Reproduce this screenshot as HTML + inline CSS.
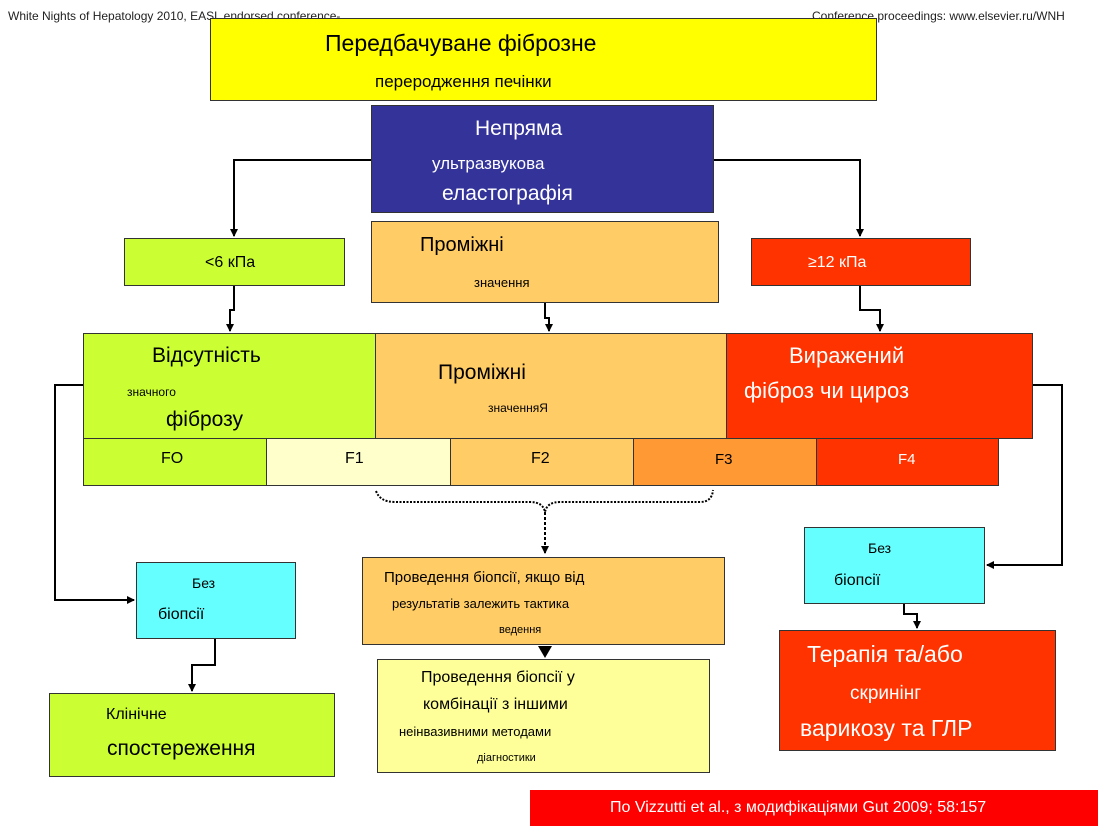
<!DOCTYPE html>
<html><head><meta charset="utf-8"><style>
body{margin:0;width:1098px;height:829px;background:#fff;position:relative;overflow:hidden;font-family:"Liberation Sans",sans-serif;}
.b{position:absolute;box-sizing:border-box;border:1.5px solid #333;}
.t{position:absolute;white-space:nowrap;}
</style></head><body>
<div class="t" style="left:8px;top:9px;font-size:12px;color:#222">White Nights of Hepatology 2010, EASL endorsed conference-</div>
<div class="t" style="left:812px;top:9px;font-size:12px;color:#222">Conference proceedings: www.elsevier.ru/WNH</div>

<div class="b" style="left:210px;top:18px;width:667px;height:83px;background:#ffff00"></div>
<div class="t" style="left:325px;top:30px;font-size:23px">Передбачуване фіброзне</div>
<div class="t" style="left:375px;top:72px;font-size:17px">переродження печінки</div>

<div class="b" style="left:371px;top:105px;width:343px;height:108px;background:#333399"></div>
<div class="t" style="left:475px;top:117px;font-size:21px;color:#fff">Непряма</div>
<div class="t" style="left:432px;top:154px;font-size:17px;color:#fff">ультразвукова</div>
<div class="t" style="left:442px;top:182px;font-size:21px;color:#fff">еластографія</div>

<div class="b" style="left:124px;top:238px;width:221px;height:48px;background:#ccff33"></div>
<div class="t" style="left:205px;top:254px;font-size:16px">&lt;6 кПа</div>
<div class="b" style="left:371px;top:221px;width:348px;height:82px;background:#ffcc66"></div>
<div class="t" style="left:420px;top:234px;font-size:20px">Проміжні</div>
<div class="t" style="left:474px;top:275px;font-size:13px">значення</div>
<div class="b" style="left:751px;top:238px;width:220px;height:48px;background:#ff3300"></div>
<div class="t" style="left:808px;top:254px;font-size:16px;color:#fff">≥12 кПа</div>

<div class="b" style="left:83px;top:333px;width:293px;height:106px;background:#ccff33"></div>
<div class="b" style="left:375px;top:333px;width:352px;height:106px;background:#ffcc66"></div>
<div class="b" style="left:726px;top:333px;width:307px;height:106px;background:#ff3300"></div>
<div class="t" style="left:152px;top:344px;font-size:21px">Відсутність</div>
<div class="t" style="left:127px;top:385px;font-size:12px">значного</div>
<div class="t" style="left:166px;top:408px;font-size:21px">фіброзу</div>
<div class="t" style="left:438px;top:361px;font-size:21px">Проміжні</div>
<div class="t" style="left:488px;top:401px;font-size:12px">значенняЯ</div>
<div class="t" style="left:789px;top:343px;font-size:22px;color:#fff">Виражений</div>
<div class="t" style="left:744px;top:378px;font-size:22px;color:#fff">фіброз чи цироз</div>

<div class="b" style="left:83px;top:438px;width:184px;height:48px;background:#ccff33"></div>
<div class="b" style="left:266px;top:438px;width:185px;height:48px;background:#ffffcc"></div>
<div class="b" style="left:450px;top:438px;width:184px;height:48px;background:#ffcc66"></div>
<div class="b" style="left:633px;top:438px;width:184px;height:48px;background:#ff9933"></div>
<div class="b" style="left:816px;top:438px;width:183px;height:48px;background:#ff3300"></div>
<div class="t" style="left:161px;top:450px;font-size:16px">FO</div>
<div class="t" style="left:345px;top:450px;font-size:16px">F1</div>
<div class="t" style="left:531px;top:450px;font-size:16px">F2</div>
<div class="t" style="left:715px;top:451px;font-size:15px">F3</div>
<div class="t" style="left:898px;top:451px;font-size:15px;color:#fff">F4</div>

<div class="b" style="left:136px;top:562px;width:160px;height:77px;background:#66ffff"></div>
<div class="t" style="left:192px;top:575px;font-size:14px">Без</div>
<div class="t" style="left:158px;top:606px;font-size:16px">біопсії</div>
<div class="b" style="left:49px;top:693px;width:286px;height:84px;background:#ccff33"></div>
<div class="t" style="left:106px;top:706px;font-size:16px">Клінічне</div>
<div class="t" style="left:107px;top:737px;font-size:21px">спостереження</div>

<div class="b" style="left:362px;top:557px;width:363px;height:88px;background:#ffcc66"></div>
<div class="t" style="left:384px;top:569px;font-size:15px">Проведення біопсії, якщо від</div>
<div class="t" style="left:392px;top:596px;font-size:13px">результатів залежить тактика</div>
<div class="t" style="left:499px;top:624px;font-size:11px">ведення</div>
<div class="b" style="left:377px;top:659px;width:333px;height:114px;background:#ffff99"></div>
<div class="t" style="left:421px;top:669px;font-size:16px">Проведення біопсії у</div>
<div class="t" style="left:423px;top:696px;font-size:16px">комбінації з іншими</div>
<div class="t" style="left:399px;top:724px;font-size:13px">неінвазивними методами</div>
<div class="t" style="left:477px;top:752px;font-size:11px">діагностики</div>

<div class="b" style="left:804px;top:527px;width:181px;height:77px;background:#66ffff"></div>
<div class="t" style="left:868px;top:540px;font-size:14px">Без</div>
<div class="t" style="left:834px;top:572px;font-size:16px">біопсії</div>
<div class="b" style="left:779px;top:630px;width:277px;height:121px;background:#ff3300"></div>
<div class="t" style="left:807px;top:641px;font-size:23px;color:#fff">Терапія та/або</div>
<div class="t" style="left:850px;top:683px;font-size:19px;color:#fff">скринінг</div>
<div class="t" style="left:800px;top:715px;font-size:23px;color:#fff">варикозу та ГЛР</div>

<div style="position:absolute;left:530px;top:790px;width:568px;height:36px;background:#ff0000"></div>
<div class="t" style="left:610px;top:799px;font-size:16px;color:#fff">По Vizzutti et al., з модифікаціями Gut 2009; 58:157</div>

<svg width="1098" height="829" style="position:absolute;left:0;top:0">
<defs><marker id="a" markerWidth="8" markerHeight="8" refX="7" refY="4" orient="auto" markerUnits="userSpaceOnUse"><path d="M0,0 L8,4 L0,8z" fill="#000"/></marker></defs>
<g stroke="#000" stroke-width="2" fill="none">
<path d="M371,160 H234 V236" marker-end="url(#a)"/>
<path d="M714,160 H860 V236" marker-end="url(#a)"/>
<path d="M234,286 V310 H230 V331" marker-end="url(#a)"/>
<path d="M545,303 V318 H549 V331" marker-end="url(#a)"/>
<path d="M860,286 V310 H880 V331" marker-end="url(#a)"/>
<path d="M83,385 H55 V600 H134" marker-end="url(#a)"/>
<path d="M215,639 V665 H192 V691" marker-end="url(#a)"/>
<path d="M1033,385 H1062 V565 H987" marker-end="url(#a)"/>
<path d="M904,604 V614 H917 V628" marker-end="url(#a)"/>
<path d="M376,491 Q380,502 395,502 H530 Q543,502 545,512 Q547,502 560,502 H700 Q712,502 713,490" stroke-dasharray="2,1.5"/>
<path d="M545,512 V553" stroke-dasharray="3,2" marker-end="url(#a)"/>
</g>
<path d="M538,646 L552,646 L545,658z" fill="#000"/>
</svg>
</body></html>
